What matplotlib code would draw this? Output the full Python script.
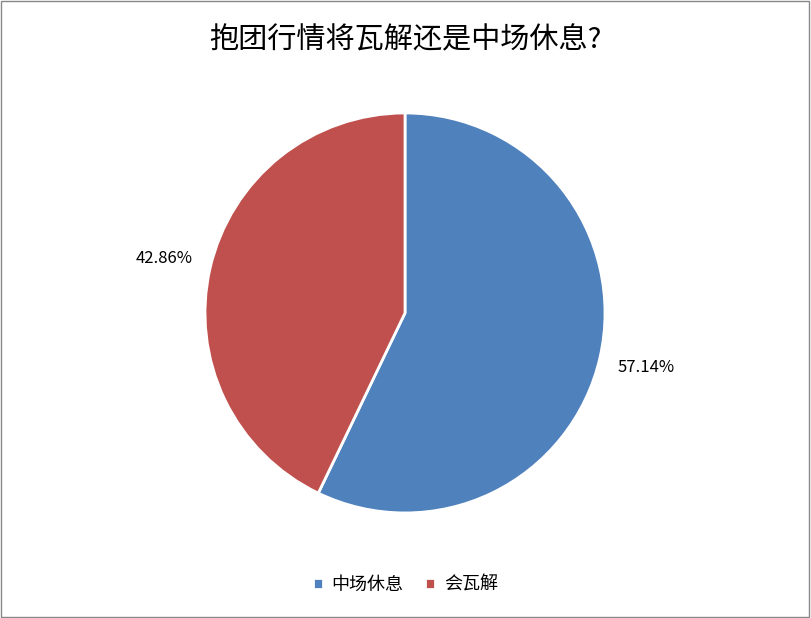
import matplotlib
matplotlib.use("Agg")
import matplotlib.pyplot as plt
from matplotlib.patches import Rectangle
import numpy as np

plt.rcParams['font.family'] = ['Noto Sans CJK SC', 'DejaVu Sans']

labels = ['中场休息', '会瓦解']
values = [57.14, 42.86]
colors = ['#4F81BD', '#C0504D']
title = '抱团行情将瓦解还是中场休息?'

fig = plt.figure(figsize=(8.11, 6.18), dpi=100)
ax = fig.add_axes([0.2528, 0.17, 0.4932, 0.6472])

wedges, texts = ax.pie(values, colors=colors, startangle=90, counterclock=False,
                       wedgeprops=dict(edgecolor='white', linewidth=2))
ax.set_aspect('auto')
ax.set_xlim(-1, 1)
ax.set_ylim(-1, 1)

# percentage labels outside the slices
theta = 90.0
total = sum(values)
for v in values:
    span = 360.0 * v / total
    mid = np.deg2rad(theta - span / 2)
    ax.text(1.235 * np.cos(mid), 1.235 * np.sin(mid), f'{v:.2f}%',
            ha='center', va='center', fontsize=12, color='#000000')
    theta -= span

fig.text(0.5, 0.935, title, ha='center', va='center', fontsize=21)

fig.legend(wedges, labels, loc='center', bbox_to_anchor=(0.5, 0.054), ncol=2,
           frameon=False, fontsize=13, handlelength=0.55, handleheight=0.55,
           handletextpad=0.5, columnspacing=1.2)

fig.patches.append(Rectangle((0.001, 0.001), 0.997, 0.997, transform=fig.transFigure,
                             fill=False, edgecolor='#888888', linewidth=1))

fig.savefig('out.png', dpi=100)
